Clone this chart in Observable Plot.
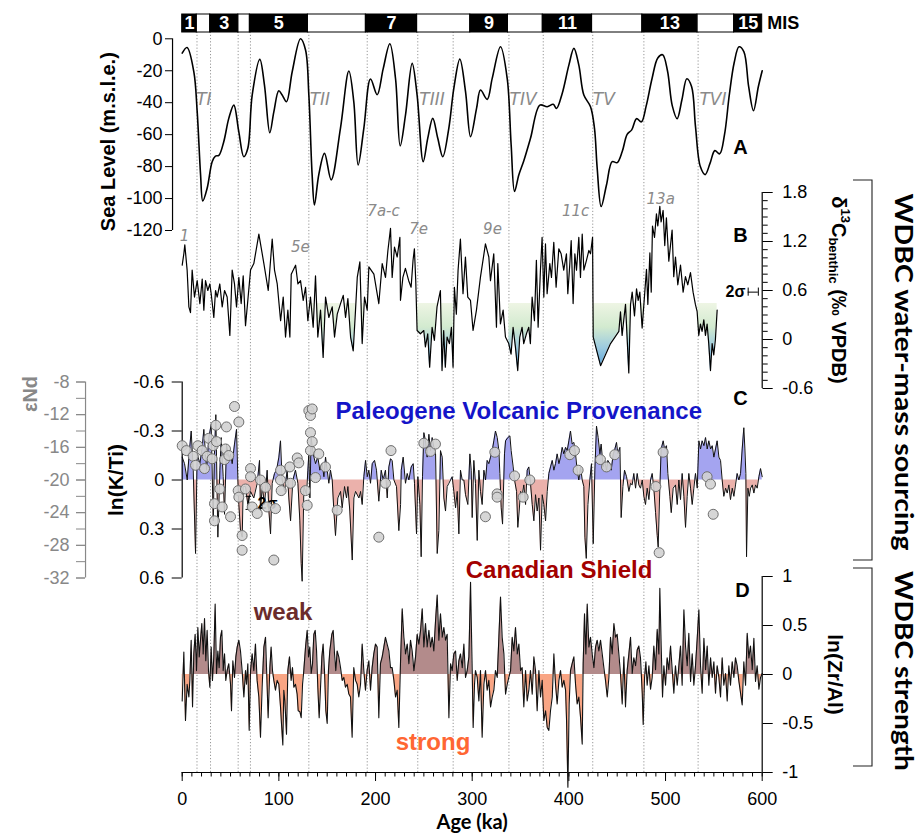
<!DOCTYPE html>
<html><head><meta charset="utf-8">
<script src="https://cdn.jsdelivr.net/npm/d3@7"></script>
<script src="https://cdn.jsdelivr.net/npm/@observablehq/plot@0.6"></script>
<style>
body{margin:0;background:#fff;}
#chart{position:relative;width:922px;height:838px;overflow:hidden;background:#fff;}
#chart svg{position:absolute;left:0;top:0;}
</style></head><body><div id="chart"></div>
<script>
// ---------------- DATA ----------------
const ageTicks = [0,100,200,300,400,500,600];
const seaTicks = [0,-20,-40,-60,-80,-100,-120];
const d13cTicks = [1.8,1.2,0.6,0,-0.6];
const ktiTicks = [-0.6,-0.3,0,0.3,0.6];
const endTicks = [-8,-12,-16,-20,-24,-28,-32];
const zrTicks = [1,0.5,0,-0.5,-1];

const misBounds = [0,15,29,58,70,130,190,243,298,337,373,424,476,533,571,600];
const misNumbers = ["1","","3","","5","","7","","9","","11","","13","","15"];
const dottedAges = [15.3,29.3,57.9,70.6,131,191.4,243.7,280.3,338,373.5,424.7,477.6,533.7];
const glacialIntervals = [[131,191.4],[243.7,280.3],[338,373.5],[424.7,477.6],[533.7,553.4]];

const terminations = [
  {label:"TI",age:22.4,value:-38},{label:"TII",age:142.4,value:-38},{label:"TIII",age:258.5,value:-38},
  {label:"TIV",age:352.6,value:-38},{label:"TV",age:436.1,value:-38},{label:"TVI",age:549,value:-38}];
const isotopeStages = [
  {label:"1",age:2.4,value:1.27},{label:"5e",age:122.2,value:1.13},{label:"7a-c",age:208.3,value:1.57},
  {label:"7e",age:244.5,value:1.35},{label:"9e",age:321,value:1.35},{label:"11c",age:407,value:1.57},{label:"13a",age:495,value:1.72}];

const seaLevel = [[0,-9],[5,-5.5],[12,-20.6],[15.5,-45.6],[19,-85],[21.3,-101.5],[25.8,-93.6],[31,-77],[34.4,-73.4],[37.9,-73],[43,-64.4],[48.2,-49.8],[53.4,-41.5],[58.5,-58],[63.7,-73.8],[67.9,-68.5],[72.4,-35.2],[80.3,-12.9],[85.1,-29],[90.6,-58.8],[94.8,-45.7],[99.9,-32.5],[103.4,-35.2],[107.9,-39.4],[113.8,-20.6],[122.4,0],[127.6,-7],[131,-35],[134.4,-85],[136.8,-104],[141.3,-85],[147.2,-71.7],[154.1,-88.3],[163.7,-56],[172.4,-20.2],[177.5,-39.4],[182,-79],[187.9,-56],[194.8,-25.2],[201.7,-35],[207.9,-18.8],[214.8,-3.1],[220.7,-25],[225.5,-67],[231,-47.7],[237.9,-15.4],[243,-35.2],[249.3,-76.9],[254,-62.3],[259.2,-49.8],[264.4,-62.3],[269.6,-73.8],[275.8,-56],[281,-31],[287.2,-12.7],[293.1,-33.1],[298.3,-61.3],[304.5,-43.6],[308.6,-32.1],[315.5,-37.9],[320.7,-24.8],[329.3,-5],[336.2,-24.8],[340.3,-66.5],[343.8,-95.6],[348.2,-85.2],[353.4,-76.3],[360.3,-62.3],[370,-41.5],[377.6,-42.5],[383.8,-41],[387.2,-43.6],[393.1,-34.2],[400,-16.5],[405.2,-6],[410.3,-16.5],[415.5,-35.2],[422.4,-42.5],[426.5,-56],[429.3,-81],[433.4,-105],[438.9,-91.5],[444.8,-76.9],[450,-77.5],[455.2,-70.6],[460.3,-59.8],[465,-57],[470,-50],[475,-52],[480,-42],[486,-25],[492,-12],[497,-10],[502,-20],[507,-42],[512,-50],[517,-38],[522,-25],[527,-30],[531,-55],[536,-80],[541,-85],[546,-78],[551,-70],[556,-72],[561,-60],[566,-35],[571,-15],[576,-5],[581,-8],[586,-30],[591,-45],[596,-30],[600,-20]];

const d13c = [[0,0.91],[1.7,1.05],[2.7,1.16],[5.1,0.85],[6.9,0.40],[8.6,0.33],[10.3,0.85],[12.7,0.52],[15.5,0.72],[18.3,0.44],[20.7,0.74],[22.4,0.36],[24.1,0.72],[26.5,0.60],[28.6,0.68],[30,0.56],[32.7,0.27],[34.5,0.60],[36.2,0.52],[38.9,0.68],[41.4,0.40],[43.8,0.60],[46.5,0.52],[49.3,0.05],[51.7,0.85],[54.1,0.68],[56.2,0.40],[58.6,0.76],[61,0.44],[63.1,0.78],[65.5,0.17],[67.9,0.48],[70.7,0.85],[74.1,0.93],[79.3,1.29],[84.5,0.93],[89,0.60],[93.1,1.23],[95.5,0.85],[98.3,0.68],[101.8,0.23],[104.5,0.52],[106.9,0.03],[109.3,0.36],[111.4,0.03],[112.8,0.80],[117.3,0.91],[119.7,0.68],[122.4,0.72],[125.2,0.48],[127.6,0.64],[130,0.23],[132.7,0.52],[135.5,0.15],[137.9,0.78],[140.3,0.03],[143.1,0.36],[145.8,-0.22],[148.3,0.52],[151.7,0.27],[155.2,0.40],[157.6,0.03],[160.4,0.31],[163.8,0.44],[166.6,0.54],[169,0.27],[171.4,0.50],[174.2,0.03],[176.9,-0.14],[179.3,0.36],[181.1,0.76],[183.8,0.95],[186.2,-0.05],[188.6,0.52],[191.4,0.36],[193.1,0.89],[198.3,0.80],[203.4,0.44],[206.9,0.93],[210.3,0.76],[212.8,1.09],[215.5,1.36],[217.2,0.76],[219.6,1.13],[222.4,1.01],[225.2,1.25],[225.8,0.48],[228.3,0.76],[230.9,0.87],[234.3,0.72],[236.8,0.64],[238.8,0.97],[240.2,1.11],[241.6,0.72],[243,0.11],[246.4,0.07],[249.9,0.11],[251.6,-0.09],[254,0.07],[256,-0.34],[258.5,0.15],[260.9,-0.01],[263.6,0.40],[267.1,0.60],[268.8,-0.38],[270.5,0.11],[272.2,-0.34],[274,0.03],[276.4,-0.05],[278.5,0.15],[280.2,-0.34],[281.6,0.64],[283.6,0.31],[285.4,0.85],[287.8,1.23],[290.5,0.56],[293,1.01],[295.4,0.52],[298.2,0.48],[300.9,0.11],[304.4,0.36],[308.5,0.76],[313.7,1.17],[317.2,1.01],[318.9,0.72],[322.3,1.05],[325.1,0.15],[326.5,0.93],[329.2,0.19],[332,0.36],[334.4,0.03],[337.8,-0.05],[340.2,-0.18],[342.3,0.15],[344.7,-0.09],[347.1,-0.38],[349.2,0.03],[351.6,0.15],[353.3,-0.05],[356.1,0.07],[358.5,0.15],[360.2,-0.05],[362,0.52],[364.4,0.23],[366.4,0.97],[368.2,0.15],[370.6,0.85],[372.3,1.25],[374.1,0.52],[375.8,1.17],[377.5,0.56],[380.3,0.93],[382,0.76],[384.4,1.19],[386.8,0.64],[389.6,1.11],[392,1.05],[394.7,0.85],[397.5,1.05],[398.9,0.56],[401,0.93],[402.4,1.21],[404.4,0.44],[406.2,1.05],[407.9,0.85],[410.3,1.25],[412,0.76],[413.8,1.29],[415.5,0.85],[418.2,0.97],[420.7,1.09],[422.4,1.05],[424.5,1.25],[425.2,0.03],[432.8,-0.32],[443.1,-0.05],[451.7,0.10],[453.4,0.34],[455.1,0.05],[456.8,0.24],[458.6,0.43],[462,-0.41],[463.8,0.43],[465.5,0.58],[467.9,0.29],[470,0.62],[471.7,0.48],[473.4,0.58],[475.8,0.14],[477.6,0.43],[480.3,0.86],[481.7,0.43],[483.8,1.06],[485.2,0.58],[486.5,1.39],[488.6,1.25],[490.6,1.54],[492,1.39],[494.1,1.63],[495.4,1.44],[497.5,1.58],[499.2,1.15],[500.9,1.49],[503.4,0.96],[505.1,1.15],[506.8,1.34],[508.5,0.77],[510.3,1.01],[512.7,0.67],[515.5,0.91],[518.2,0.58],[520.6,0.77],[523,0.67],[525.8,0.82],[528.5,0.58],[530.9,0.43],[532.7,0.34],[534.4,0.05],[536.1,0.19],[537.8,0.10],[539.6,0.24],[541.3,0.05],[543,0.19],[544.7,-0.05],[546.5,-0.38],[548.2,-0.05],[549.9,-0.19],[551.6,0.0],[553.4,0.36]];

const kti = [[0,-0.14],[2.4,-0.10],[5.2,0.0],[7.2,-0.16],[9.3,-0.30],[11.4,-0.06],[13.8,0.45],[15.5,-0.16],[18.3,-0.10],[20.7,-0.20],[22.4,-0.31],[25.2,-0.06],[27.6,-0.26],[30,-0.34],[32.1,0.25],[33.4,-0.16],[34.8,-0.40],[36.9,0.35],[39,-0.06],[40.3,-0.26],[42.4,-0.02],[43.8,0.21],[45.9,-0.22],[48.3,-0.12],[50,-0.16],[51.7,-0.10],[54.1,-0.22],[56.2,-0.31],[57.6,0.0],[58.6,0.15],[60.3,0.31],[62.1,0.35],[63.1,0.04],[65.5,0.04],[67.9,0.15],[70.7,0.07],[74.1,0.11],[77.6,0.02],[80,-0.12],[81,0.19],[82.8,0.04],[85.2,0.15],[87.9,-0.06],[89.7,0.19],[91.4,0.33],[93.1,0.02],[95.5,-0.04],[97.6,-0.06],[100,-0.14],[101.7,-0.24],[103.4,0.0],[105.9,0.07],[108.6,-0.06],[110.3,0.11],[112.1,0.25],[114.5,0.0],[117.2,-0.06],[119.7,0.02],[121.7,0.25],[123.1,0.51],[124.1,0.62],[125.9,0.04],[128.6,0.09],[130,-0.06],[131,-0.16],[132.1,0.11],[133.4,-0.26],[135.5,-0.16],[137.9,-0.10],[140.3,-0.14],[142.4,-0.06],[144.8,-0.10],[146.6,-0.02],[148.3,-0.14],[150,-0.06],[151.7,0.02],[153.4,-0.06],[155.2,0.0],[156.9,0.19],[158.6,0.34],[161,0.11],[163.8,0.07],[165.5,0.17],[167.9,0.04],[170,0.11],[171.4,0.04],[173.4,0.19],[175.9,0.49],[177.6,0.11],[179.3,0.07],[182.8,0.11],[184.5,0.07],[186.2,0.15],[187.9,-0.02],[189.7,-0.12],[191.4,-0.02],[193.1,-0.06],[194.8,0.02],[196.6,-0.10],[199,-0.12],[201,-0.06],[203.4,0.13],[205.9,-0.06],[207.9,0.0],[210.3,-0.06],[212.1,0.11],[213.8,-0.08],[215.5,-0.13],[217.2,-0.12],[219,0.0],[221.7,0.04],[224.1,0.31],[225.9,0.15],[226.6,-0.06],[228.6,-0.14],[231,0.02],[232.8,-0.04],[234.5,0.0],[236.9,-0.08],[239,-0.10],[240.3,0.02],[242.4,0.33],[243.8,-0.02],[245.9,0.15],[247.2,0.47],[248.6,-0.02],[250,-0.29],[251.7,-0.24],[253.4,-0.14],[255.2,-0.28],[256.9,-0.18],[258.6,-0.26],[260.3,-0.20],[262.1,-0.16],[263.8,0.45],[265.5,0.31],[267.2,-0.18],[269,-0.14],[270.7,0.11],[272.4,0.19],[274.1,0.04],[275.9,0.02],[277.6,0.0],[279.3,-0.02],[281,0.07],[282.8,0.17],[284.5,0.07],[286.2,0.33],[287.9,-0.06],[289.7,0.0],[291.4,0.0],[293.1,0.09],[295.5,0.15],[297.6,-0.16],[299,-0.06],[300,0.23],[301.7,-0.12],[303.4,0.02],[305.2,0.37],[306.9,-0.06],[308.6,0.07],[310.3,0.15],[312.1,-0.06],[313.8,0.0],[315.5,-0.12],[317.2,-0.10],[319,-0.14],[320.7,-0.18],[322.4,-0.24],[324.1,-0.30],[325.9,-0.26],[327.6,-0.18],[328.6,-0.04],[330,0.17],[331.4,0.27],[333.4,-0.16],[334.5,-0.24],[336.9,-0.26],[339,-0.27],[340.3,-0.18],[342.4,-0.08],[343.8,0.0],[345.9,0.07],[347.2,0.29],[348.6,0.19],[350,0.07],[351.7,0.09],[353.4,0.03],[355.2,0.15],[356.9,-0.06],[358.6,-0.08],[360.3,0.02],[362.1,0.15],[363.8,0.25],[365.5,0.09],[367.2,0.19],[369,0.11],[370.7,0.43],[372.4,0.09],[374.1,0.15],[375.9,0.25],[377.6,0.07],[379.3,-0.04],[381,-0.08],[382.8,-0.12],[384.5,-0.06],[386.2,-0.10],[387.9,-0.16],[389.7,-0.10],[391.4,-0.14],[393.1,-0.20],[394.8,-0.16],[396.6,-0.20],[398.3,-0.18],[400,-0.24],[401.7,-0.30],[403.4,-0.22],[405.2,-0.23],[406.9,-0.16],[408.6,-0.06],[410.3,0.0],[412.1,-0.08],[413.8,0.0],[415.5,0.04],[416.6,0.35],[418,0.48],[419.7,0.15],[421.7,0.0],[423.4,-0.10],[425.2,0.39],[426.9,-0.06],[428.6,-0.33],[430.3,-0.26],[432.1,-0.16],[433.4,-0.22],[435.5,-0.08],[436.9,-0.12],[439,-0.06],[440.3,-0.12],[442.4,-0.10],[443.8,-0.06],[445.9,-0.16],[447.2,-0.18],[449.3,-0.23],[450.7,-0.16],[452.8,-0.20],[454.1,0.23],[455.9,0.04],[457.6,-0.06],[459.7,-0.02],[462.1,0.07],[463.8,0.02],[465.5,0.03],[467.2,-0.04],[469,0.05],[470.7,-0.04],[472.4,0.03],[474.1,0.05],[475.9,0.0],[477.6,0.10],[479.3,0.15],[481,0.05],[482.8,0.12],[484.5,0.0],[486.2,-0.04],[487.9,0.05],[489.7,0.20],[491.4,0.34],[492.4,0.41],[494.1,0.05],[495.5,-0.19],[497.6,-0.24],[499,-0.19],[501,-0.21],[502.4,-0.04],[504.5,0.10],[505.9,0.20],[507.9,0.05],[510.3,0.03],[512.1,0.15],[513.8,0.0],[515.5,0.12],[517.2,-0.04],[519,0.10],[520.7,0.29],[522.4,0.10],[524.1,-0.04],[525.9,0.05],[527.6,0.15],[529.3,0.05],[531,-0.04],[532.8,0.05],[534.5,-0.24],[536.2,-0.19],[537.9,-0.24],[539.7,-0.21],[541.4,-0.26],[543.1,-0.19],[544.8,-0.24],[546.6,-0.19],[548.3,-0.21],[550,-0.14],[551.7,-0.19],[553.4,-0.24],[555.2,-0.14],[556.9,-0.12],[558.6,0.0],[560.3,0.10],[562.1,0.05],[563.8,0.08],[565.5,0.03],[567.2,0.12],[569,0.05],[570.7,0.10],[572.4,0.03],[574.1,-0.04],[575.9,0.0],[577.6,-0.04],[579.3,-0.19],[581,-0.32],[582.1,-0.19],[583.1,-0.04],[583.8,0.47],[585.2,0.05],[586.6,0.10],[588,0.05],[589.7,0.03],[591.4,0.08],[593.1,0.03],[594.8,0.05],[596.6,-0.02],[598.3,-0.07],[600,-0.02]];

const epsNd = [[0,-15.8],[4.4,-16.4],[11.4,-17.1],[13.8,-18.2],[16.2,-15.8],[20.7,-16.4],[23.1,-18.6],[25.9,-17.1],[27.5,-14.9],[31,-17.4],[32,-15.8],[33.4,-22.9],[33.4,-25.0],[34.8,-13.3],[35.5,-15.3],[38.9,-21.1],[41.4,-23.3],[43.8,-17.5],[44.8,-16.2],[45.8,-13.5],[48.2,-17.0],[50,-24.5],[54.1,-11.0],[57.9,-21.3],[58.6,-12.9],[58.6,-22.1],[62,-26.8],[62,-28.6],[65.5,-21.1],[70.7,-18.6],[70.7,-19.6],[72.4,-23.3],[77.6,-24.1],[81,-20.0],[86.2,-20.9],[87.9,-23.3],[94.8,-29.8],[96.5,-23.5],[101.7,-18.8],[101.7,-20.0],[102.4,-21.3],[111.3,-18.4],[112,-20.4],[119,-17.3],[120.6,-17.9],[127.5,-21.3],[129.3,-23.1],[131,-11.5],[132.7,-12.1],[132.7,-14.2],[132.7,-16.4],[134.5,-11.3],[134.5,-15.3],[137.9,-19.7],[141.3,-16.8],[148.2,-18.4],[160.3,-23.7],[203.4,-27.0],[210.3,-20.4],[216,-16.4],[250,-15.5],[256.9,-16.5],[262,-15.6],[313.7,-24.5],[323.4,-16.6],[325.8,-21.7],[325.8,-22.1],[343.8,-19.5],[352.7,-22.1],[359.6,-20.0],[401,-16.9],[405.8,-16.4],[409.6,-18.8],[432.7,-17.5],[438.9,-18.4],[447.5,-16.9],[490,-20.8],[493.4,-28.9],[497.5,-16.6],[543,-19.6],[546.5,-20.5],[549.3,-24.2]];

const zrAl = [[0,-0.27],[1.7,0.23],[3.4,-0.47],[5.1,-0.10],[6.9,-0.23],[7.9,-0.06],[9.3,0.35],[10.7,-0.33],[12,0.21],[13.4,0.41],[14.8,0.04],[16.2,0.48],[17.6,0.18],[18.9,0.35],[20.3,0.52],[21.7,0.21],[23.1,0.57],[24.4,0.14],[25.8,0.45],[27.2,0.04],[28.6,-0.13],[30,0.28],[31.3,-0.06],[32.7,0.18],[34.1,0.72],[35.5,0.01],[36.9,0.24],[38.2,0.07],[39.6,0.38],[41,0.45],[42.4,0.04],[43.8,0.21],[45.1,-0.06],[46.5,0.04],[48.2,0.11],[50,-0.10],[51,-0.37],[52.4,0.14],[54.1,-0.03],[55.5,0.18],[56.9,0.28],[58.6,0.35],[60.3,0.24],[62,0.04],[63.8,-0.23],[65.5,0.04],[66.5,-0.10],[67.9,0.11],[69.3,-0.57],[70.7,0.04],[72.4,0.21],[74.1,0.04],[75.8,0.31],[77.5,-0.06],[79.3,-0.23],[81,-0.64],[82.7,-0.13],[84.5,0.28],[86.2,0.38],[87.9,-0.13],[88.9,-0.44],[90.7,0.07],[92,0.28],[93.4,0.04],[94.8,-0.06],[96.5,-0.16],[98.2,-0.06],[100,-0.10],[101.7,-0.33],[102.7,-0.50],[104.1,-0.72],[105.1,-0.16],[106.2,-0.27],[107.9,-0.61],[109.3,0.04],[111,0.18],[112.7,-0.06],[114.1,0.07],[115.5,-0.13],[117.2,-0.10],[118.9,-0.20],[120,-0.37],[121.7,-0.38],[123.1,-0.44],[124.5,-0.10],[125.8,0.04],[127.6,0.28],[129.3,0.45],[130.7,0.18],[132,0.28],[133.4,0.01],[134.8,0.11],[136.2,0.41],[137.6,0.45],[139,0.24],[140.3,-0.13],[141.7,-0.44],[143.1,-0.13],[144.5,0.18],[145.8,0.31],[147.2,0.04],[148.6,-0.37],[150,-0.50],[151.3,0.04],[152.7,0.24],[154.8,0.41],[156.2,0.45],[157.6,0.21],[158.9,0.04],[160.3,0.24],[162,0.18],[163.8,0.07],[165.5,-0.06],[167.2,-0.03],[168.9,-0.13],[170.7,-0.10],[172.4,-0.20],[174.1,-0.23],[175.8,-0.64],[177.5,0.07],[179.3,-0.06],[181,-0.10],[182.7,-0.23],[184.5,-0.10],[186.2,0.31],[187.9,0.04],[189.6,-0.16],[191.3,0.04],[193.1,0.14],[194.8,-0.16],[196.5,0.07],[198.2,0.21],[200,0.31],[201.7,0.28],[203.4,-0.44],[205.1,0.11],[206.9,0.18],[208.6,0.28],[210.3,0.38],[212,0.31],[213.8,0.24],[215.5,0.07],[217.2,0.07],[219,-0.06],[220.7,-0.23],[222.4,-0.16],[224.1,-0.54],[225.8,0.11],[227.6,0.67],[229.3,0.38],[231,0.21],[232.8,0.31],[234.5,0.11],[236.2,0.35],[237.9,0.24],[239.7,0.04],[241.4,0.18],[243.1,0.41],[244.8,0.31],[246.6,0.45],[248.3,0.67],[250,0.28],[251.7,0.52],[253.4,0.28],[255.2,0.45],[256.9,0.28],[258.6,0.38],[260.3,0.24],[262.1,0.55],[263.8,0.81],[265.5,0.35],[267.2,0.62],[269,0.38],[270.7,0.48],[272.4,0.35],[274.1,0.41],[275.9,-0.44],[277.6,0.11],[279.3,0.04],[281,0.21],[282.8,0.24],[284.5,-0.06],[286.2,0.14],[287.9,0.21],[289.7,0.07],[291.4,0.31],[293.1,-0.03],[294.8,0.04],[296.6,0.18],[298.3,0.94],[300,0.04],[301,-0.54],[302.4,-0.10],[303.4,0.04],[305.2,-0.03],[306.9,-0.27],[308.6,0.04],[310.3,-0.64],[312.1,-0.10],[313.8,0.04],[315.5,-0.16],[317.2,-0.06],[319,-0.33],[320.7,-0.23],[322.4,-0.16],[324.1,0.04],[325.9,-0.03],[327.6,0.38],[329.3,0.79],[331,0.38],[332.8,0.21],[334.5,-0.20],[336.2,-0.10],[337.9,-0.03],[339.7,0.04],[341.4,0.38],[343.1,0.24],[344.8,0.48],[346.6,0.21],[348.3,0.31],[350,0.04],[351.7,0.07],[353.4,-0.33],[355.2,0.04],[356.9,-0.27],[358.6,-0.16],[360.3,0.04],[362.1,-0.20],[363.8,0.18],[365.5,0.04],[367.2,-0.37],[369,0.04],[370.7,-0.23],[372.4,-0.06],[374.1,-0.47],[375.9,-0.37],[377.6,-0.54],[379.3,-0.57],[381,-0.37],[382.8,-0.23],[384.5,0.21],[386.2,-0.10],[387.9,-0.30],[389.7,-0.06],[391.4,0.04],[393.1,-0.13],[394.8,-0.06],[396.6,-0.16],[397.6,-0.47],[399,-1.15],[400.3,-0.30],[401.7,0.04],[403.4,0.11],[405.2,0.18],[406.9,-0.10],[408.6,-0.30],[410.3,-0.23],[412.1,-0.44],[413.8,-0.71],[414.8,0.11],[416.2,0.62],[417.6,0.21],[419,0.72],[420.7,0.28],[422.4,0.38],[424.1,0.21],[425.9,0.07],[427.6,0.28],[429.3,0.35],[431,0.24],[432.8,0.35],[434.5,0.21],[436.2,0.07],[437.9,-0.06],[439.7,-0.23],[441.4,-0.03],[443.1,0.38],[444.8,0.21],[446.6,0.52],[448.3,0.38],[450,0.41],[451.7,0.21],[453.4,0.01],[455.2,-0.30],[456.9,0.18],[458.6,-0.33],[460.3,0.04],[462.1,0.21],[463.8,0.38],[465.5,0.01],[467.2,0.17],[469,0.09],[470.7,0.25],[472.4,0.29],[474.1,0.17],[475.9,-0.19],[476.9,-0.51],[478.3,-0.03],[479.7,0.13],[481,-0.11],[482.8,0.09],[484.5,-0.15],[486.2,-0.03],[487.9,0.29],[489.7,0.05],[491.4,0.46],[493.1,0.21],[494.1,0.88],[495.5,0.29],[496.9,-0.23],[498.3,0.09],[500,-0.11],[501.7,0.17],[503.4,0.05],[505.2,0.29],[506.9,0.05],[508.6,-0.19],[510.3,0.09],[512.1,-0.11],[513.8,0.09],[515.5,0.29],[517.2,-0.11],[519,0.66],[520.7,0.29],[522.4,0.09],[524.1,0.42],[525.9,-0.07],[527.6,0.21],[529.3,-0.11],[531,0.09],[532.8,0.37],[534.5,0.66],[536.2,0.09],[537.9,-0.19],[539.7,0.37],[541.4,0.05],[543.1,0.29],[544.8,-0.11],[546.6,0.17],[548.3,-0.03],[550,0.13],[551.7,-0.19],[553.4,0.09],[555.2,-0.03],[556.9,-0.23],[558.6,0.17],[560.3,-0.11],[562.1,0.01],[563.8,-0.27],[565.5,0.09],[567.2,-0.11],[569,0.13],[570.7,-0.03],[572.4,0.17],[574.1,0.09],[575.9,-0.07],[577.6,-0.19],[579.3,-0.31],[581,0.13],[582.8,-0.11],[584.5,0.42],[586.2,0.17],[587.9,0.29],[589.7,0.05],[591.4,0.37],[593.1,-0.07],[594.8,0.09],[596.6,-0.15],[598.3,-0.03],[600,0.01]];

// ---------------- HELPERS ----------------
const B_THRESHOLD = 0.44;
function withCrossings(data, T) {
  const out = [];
  for (let i = 0; i < data.length; i++) {
    out.push({age: data[i][0], v: data[i][1]});
    if (i < data.length - 1) {
      const [x0, y0] = data[i], [x1, y1] = data[i + 1];
      if ((y0 - T) * (y1 - T) < 0) out.push({age: x0 + (T - y0) / (y1 - y0) * (x1 - x0), v: T});
    }
  }
  return out;
}
function interp(data, x) {
  for (let i = 0; i < data.length - 1; i++) {
    const [x0, y0] = data[i], [x1, y1] = data[i + 1];
    if (x >= x0 && x <= x1) return y0 + (y1 - y0) * (x - x0) / (x1 - x0);
  }
  return data[data.length - 1][1];
}
function intervalFill(data, intervals, T) {
  const out = [];
  intervals.forEach(([a, b], k) => {
    const seg = [[a, interp(data, a)], ...data.filter(d => d[0] > a && d[0] < b), [b, interp(data, b)]];
    withCrossings(seg, T).forEach(p => out.push({...p, seg: k}));
  });
  return out;
}
const fmt = d => String(d);
const SANS = "'Liberation Sans', Arial, sans-serif";
const NARROW = "'Liberation Sans Narrow', 'Liberation Sans', Arial, sans-serif";
const CAL = "Lato, 'Open Sans', sans-serif";
const xs = {domain: [0, 600], range: [181.7, 761.7]};
const chart = document.getElementById("chart");
function mk(opts) {
  const svg = Plot.plot({
    width: 922, height: 838, marginRight: 160.3,
    style: {position: "absolute", left: "0px", top: "0px", background: "transparent", overflow: "visible", fontFamily: SANS, fontSize: "18px", color: "black"},
    ...opts
  });
  chart.appendChild(svg);
  return svg;
}

// ---------------- GUIDES + X AXIS ----------------
mk({
  marginTop: 32, marginBottom: 66, marginLeft: 181.7,
  x: xs, y: {domain: [0, 1], axis: null},
  marks: [
    Plot.ruleX(dottedAges, {y1: 0, y2: 1, stroke: "#8a8a8a", strokeWidth: 0.9, strokeDasharray: "1.2,2"}),
    Plot.axisX({ticks: d3.range(0, 601, 10), tickSize: 4.5, tickFormat: () => "", label: null}),
    Plot.axisX({ticks: ageTicks, tickSize: 9, tickPadding: 11, fontSize: 18, tickFormat: fmt, label: null}),
    Plot.ruleY([0], {x1: 0, x2: 600, stroke: "black", strokeWidth: 1.2}),
    Plot.text(["Age (ka)"], {frameAnchor: "bottom", dy: 56, fontWeight: "bold", fontSize: 20, fontFamily: CAL})
  ]
});

// ---------------- MIS BAR ----------------
const misBoxes = misBounds.slice(0, -1).map((a, i) => ({a, b: misBounds[i + 1], label: misNumbers[i], odd: i % 2 === 0}));
mk({
  marginTop: 14, marginBottom: 806, marginLeft: 181.7,
  x: {...xs, axis: null}, y: {domain: [0, 1], axis: null},
  marks: [
    Plot.rect(misBoxes.filter(d => !d.odd), {x1: "a", x2: "b", y1: 0, y2: 1, fill: "white", stroke: "black", strokeWidth: 1}),
    Plot.rect(misBoxes.filter(d => d.odd), {x1: "a", x2: "b", y1: 0, y2: 1, fill: "black", stroke: "black", strokeWidth: 1}),
    Plot.text(misBoxes.filter(d => d.odd), {x: d => (d.a + d.b) / 2, y: 0.5, text: "label", fill: "white", fontWeight: "bold", fontSize: 18, fontFamily: NARROW}),
    Plot.text(["MIS"], {frameAnchor: "right", dx: 5, textAnchor: "start", fontWeight: "bold", fontSize: 18, fontFamily: NARROW})
  ]
});

// ---------------- PANEL A: SEA LEVEL ----------------
mk({
  marginTop: 38.3, marginBottom: 608, marginLeft: 172,
  x: {...xs, axis: null}, y: {domain: [-120, 0]},
  marks: [
    Plot.ruleX([-10], {y1: -120, y2: 0, strokeWidth: 1.2}),
    Plot.axisY({ticks: seaTicks, tickSize: 7, tickPadding: 3, fontSize: 18, tickFormat: fmt, label: null}),
    Plot.line(seaLevel, {x: d => d[0], y: d => d[1], curve: "catmull-rom", strokeWidth: 1.6}),
    Plot.text(terminations, {x: "age", y: "value", text: "label", fill: "#8a8a8a", fontStyle: "italic", fontSize: 17, fontFamily: "'DejaVu Sans', sans-serif"}),
    Plot.text(["A"], {x: 577.5, y: -68, fontWeight: "bold", fontSize: 20}),
    Plot.text(["Sea Level (m.s.l.e.)"], {frameAnchor: "left", dx: -64, dy: 7, rotate: -90, textAnchor: "middle", lineAnchor: "middle", fontWeight: "bold", fontSize: 20})
  ]
});

// ---------------- PANEL B: d13C ----------------
const bFill = intervalFill(d13c, glacialIntervals, B_THRESHOLD);
const plotB = mk({
  marginTop: 192, marginBottom: 450, marginLeft: 181.7,
  x: {...xs, axis: null}, y: {domain: [-0.6, 1.8]},
  marks: [
    Plot.areaY(bFill, {x: "age", y1: B_THRESHOLD, y2: d => Math.min(d.v, B_THRESHOLD), z: "seg", fill: "url(#bgrad)"}),
    Plot.line(d13c, {x: d => d[0], y: d => d[1], strokeWidth: 1.2}),
    Plot.ruleX([600], {y1: -0.6, y2: 1.8, strokeWidth: 1.2}),
    Plot.axisY({anchor: "right", ticks: d3.range(-6, 19).map(i => i / 10), tickSize: 5, tickFormat: () => "", label: null}),
    Plot.axisY({anchor: "right", ticks: d13cTicks, tickSize: 10, tickPadding: 10, fontSize: 18, tickFormat: fmt, label: null}),
    Plot.text(isotopeStages, {x: "age", y: "value", text: "label", fill: "#8a8a8a", fontStyle: "italic", fontSize: 15, fontFamily: "'DejaVu Sans', sans-serif"}),
    Plot.text(["B"], {x: 577.5, y: 1.27, fontWeight: "bold", fontSize: 20}),
    Plot.text(["2σ"], {x: 572.4, y: 0.58, fontWeight: "bold", fontSize: 16}),
    Plot.ruleY([0.58], {x1: 585.5, x2: 596, strokeWidth: 1}),
    Plot.ruleX([585.5, 596], {y1: 0.53, y2: 0.63, strokeWidth: 1})
  ]
});
{
  const ys = plotB.scale("y");
  const defs = d3.select(plotB).insert("defs", ":first-child");
  const g = defs.append("linearGradient").attr("id", "bgrad").attr("gradientUnits", "userSpaceOnUse")
    .attr("x1", 0).attr("x2", 0).attr("y1", ys.apply(B_THRESHOLD)).attr("y2", ys.apply(-0.4));
  [["0%", "#eef5e4"], ["35%", "#d2eacf"], ["65%", "#9ccbe0"], ["100%", "#4a98d6"]]
    .forEach(([o, c]) => g.append("stop").attr("offset", o).attr("stop-color", c));
  const t = d3.select(plotB).append("text")
    .attr("transform", "translate(837,290) rotate(90)")
    .attr("text-anchor", "middle").attr("dominant-baseline", "middle")
    .attr("font-weight", "bold").attr("font-size", 20).attr("font-family", SANS).attr("fill", "black");
  t.append("tspan").text("δ");
  t.append("tspan").attr("font-size", 13).attr("dy", -7).text("13");
  t.append("tspan").attr("dy", 7).text("C");
  t.append("tspan").attr("font-size", 13).attr("dy", 5).text("benthic");
  t.append("tspan").attr("dy", -5).text(" (‰ VPDB)");
}

// ---------------- PANEL C: ln(K/Ti) ----------------
const cData = withCrossings(kti, 0);
mk({
  marginTop: 381.5, marginBottom: 260.5, marginLeft: 181.7,
  x: {...xs, axis: null}, y: {domain: [-0.6, 0.6], reverse: true},
  marks: [
    Plot.areaY(cData, {x: "age", y1: 0, y2: d => Math.min(d.v, 0), fill: "#a4a4f0"}),
    Plot.areaY(cData, {x: "age", y1: 0, y2: d => Math.max(d.v, 0), fill: "#ebb1ab"}),
    Plot.line(kti, {x: d => d[0], y: d => d[1], stroke: "#111", strokeWidth: 1}),
    Plot.ruleX([0], {y1: -0.6, y2: 0.6, strokeWidth: 1.2}),
    Plot.axisY({anchor: "left", ticks: ktiTicks, tickSize: 10, tickPadding: 8, fontSize: 18, tickFormat: fmt, label: null}),
    Plot.text(["ln(K/Ti)"], {frameAnchor: "left", dx: -66, rotate: -90, textAnchor: "middle", lineAnchor: "middle", fontWeight: "bold", fontSize: 21}),
    Plot.text(["C"], {x: 577.5, y: -0.5, fontWeight: "bold", fontSize: 20}),
    Plot.text(["Paleogene Volcanic Provenance"], {x: 158.7, y: -0.42, textAnchor: "start", fill: "#1414c8", fontWeight: "bold", fontSize: 24}),
    Plot.text(["Canadian Shield"], {x: 293.3, y: 0.55, textAnchor: "start", fill: "#a30000", fontWeight: "bold", fontSize: 24}),
    Plot.ruleX([68.9], {y1: 0.10, y2: 0.18, strokeWidth: 1}),
    Plot.ruleY([0.10, 0.18], {x1: 66, x2: 71.8, strokeWidth: 1}),
    Plot.text(["2σ"], {x: 88.2, y: 0.146, fontWeight: "bold", fontSize: 16})
  ]
});

// ---------------- eNd (on panel C) ----------------
mk({
  marginTop: 381.5, marginBottom: 260.5, marginLeft: 85,
  x: {...xs, axis: null}, y: {domain: [-32, -8]},
  marks: [
    Plot.ruleX([-100], {y1: -32, y2: -8, stroke: "#888", strokeWidth: 1.2}),
    Plot.axisY({anchor: "left", ticks: d3.range(-32, -7, 2), tickSize: 9, tickFormat: () => "", color: "#888", label: null}),
    Plot.axisY({anchor: "left", ticks: endTicks, tickSize: 9, tickPadding: 7, fontSize: 18, tickFormat: fmt, color: "#888", label: null}),
    Plot.dot(epsNd, {x: d => d[0], y: d => d[1], r: 5, fill: "#d2d2d2", fillOpacity: 0.9, stroke: "#6e6e6e", strokeWidth: 1}),
    Plot.text(["εNd"], {frameAnchor: "top-left", dx: -55, dy: 12, rotate: -90, textAnchor: "middle", lineAnchor: "middle", fill: "#888", fontWeight: "bold", fontSize: 20})
  ]
});

// ---------------- PANEL D: ln(Zr/Al) ----------------
const dData = withCrossings(zrAl, 0);
const plotD = mk({
  marginTop: 576, marginBottom: 66, marginLeft: 181.7,
  x: {...xs, axis: null}, y: {domain: [-1, 1]},
  marks: [
    Plot.areaY(dData, {x: "age", y1: 0, y2: d => Math.max(d.v, 0), fill: "#b38b8b"}),
    Plot.areaY(dData, {x: "age", y1: 0, y2: d => Math.min(d.v, 0), fill: "#f9a584"}),
    Plot.line(zrAl, {x: d => d[0], y: d => d[1], stroke: "#111", strokeWidth: 1.1}),
    Plot.ruleX([600], {y1: -1, y2: 1, strokeWidth: 1.2}),
    Plot.axisY({anchor: "right", ticks: zrTicks, tickSize: 10, tickPadding: 10, fontSize: 18, tickFormat: fmt, label: null}),
    Plot.text(["ln(Zr/Al)"], {frameAnchor: "right", dx: 73, rotate: 90, textAnchor: "middle", lineAnchor: "middle", fontWeight: "bold", fontSize: 21}),
    Plot.text(["D"], {x: 579.6, y: 0.86, fontWeight: "bold", fontSize: 20}),
    Plot.text(["weak"], {x: 104.3, y: 0.63, fill: "#6b2c2c", fontWeight: "bold", fontSize: 24}),
    Plot.text(["strong"], {x: 259.4, y: -0.69, fill: "#ff6633", fontWeight: "bold", fontSize: 24})
  ]
});

// ---------------- RIGHT-SIDE GROUPING ----------------
{
  const s = d3.select(plotD);
  [[180, 560], [568, 766]].forEach(([a, b]) => {
    s.append("path").attr("d", `M853,${a}H872V${b}H853`).attr("fill", "none").attr("stroke", "#222").attr("stroke-width", 1.1);
  });
  [["WDBC water-mass sourcing", 372, 357], ["WDBC strength", 671, 200]].forEach(([txt, cy, len]) => {
    s.append("text").attr("transform", `translate(901,${cy}) rotate(90)`)
      .attr("text-anchor", "middle").attr("dominant-baseline", "middle")
      .attr("font-family", CAL).attr("font-weight", "bold").attr("font-size", 25)
      .attr("textLength", len).attr("lengthAdjust", "spacingAndGlyphs").attr("fill", "black").text(txt);
  });
}
</script></body></html>
